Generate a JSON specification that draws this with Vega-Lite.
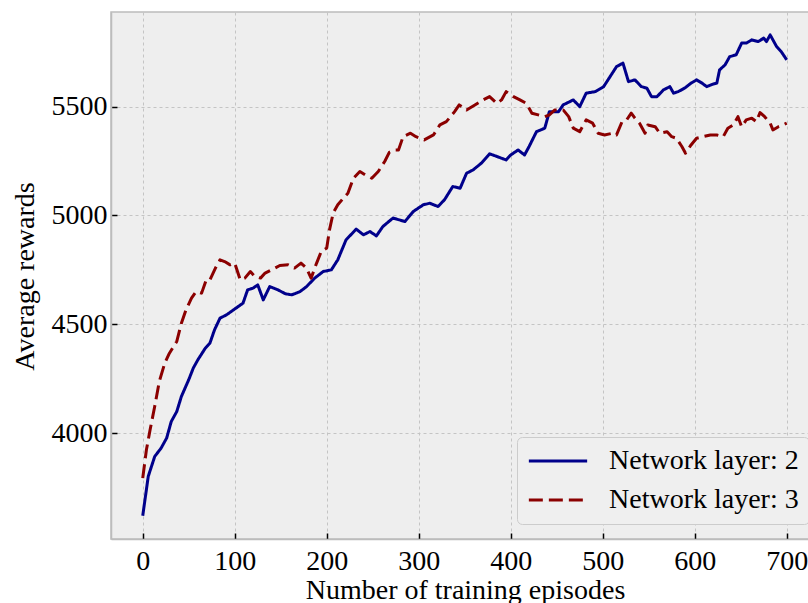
{
  "$schema": "https://vega.github.io/schema/vega-lite/v6.json",
  "width": 699,
  "height": 527,
  "autosize": "none",
  "padding": {"left": 111, "top": 12, "right": 0, "bottom": 64},
  "background": "white",
  "config": {
    "view": {"fill": "#eeeeee", "stroke": "#bcbcbc", "strokeWidth": 1.5},
    "font": "Liberation Serif",
    "axis": {
      "labelFont": "Liberation Serif",
      "labelFontSize": 28,
      "labelColor": "#000000",
      "titleFont": "Liberation Serif",
      "titleFontSize": 28,
      "titleFontWeight": "normal",
      "titleColor": "#000000",
      "domainColor": "#bcbcbc",
      "domainWidth": 1.5,
      "tickColor": "#000000",
      "tickWidth": 1.5,
      "tickSize": -6,
      "gridColor": "#c4c4c4",
      "gridDash": [3, 3],
      "gridWidth": 1
    },
    "legend": {
      "labelFont": "Liberation Serif",
      "labelFontSize": 28,
      "labelColor": "#000000",
      "labelLimit": 400
    }
  },
  "data": {
    "values": [
      {"ep": 0, "v": 3620, "s": "Network layer: 2"},
      {"ep": 6, "v": 3801, "s": "Network layer: 2"},
      {"ep": 13, "v": 3892, "s": "Network layer: 2"},
      {"ep": 20, "v": 3931, "s": "Network layer: 2"},
      {"ep": 26, "v": 3977, "s": "Network layer: 2"},
      {"ep": 31, "v": 4053, "s": "Network layer: 2"},
      {"ep": 37, "v": 4099, "s": "Network layer: 2"},
      {"ep": 42, "v": 4168, "s": "Network layer: 2"},
      {"ep": 50, "v": 4245, "s": "Network layer: 2"},
      {"ep": 55, "v": 4299, "s": "Network layer: 2"},
      {"ep": 60, "v": 4337, "s": "Network layer: 2"},
      {"ep": 68, "v": 4390, "s": "Network layer: 2"},
      {"ep": 73, "v": 4413, "s": "Network layer: 2"},
      {"ep": 78, "v": 4474, "s": "Network layer: 2"},
      {"ep": 84, "v": 4528, "s": "Network layer: 2"},
      {"ep": 91, "v": 4543, "s": "Network layer: 2"},
      {"ep": 100, "v": 4570, "s": "Network layer: 2"},
      {"ep": 109, "v": 4597, "s": "Network layer: 2"},
      {"ep": 114, "v": 4658, "s": "Network layer: 2"},
      {"ep": 120, "v": 4666, "s": "Network layer: 2"},
      {"ep": 125, "v": 4681, "s": "Network layer: 2"},
      {"ep": 131, "v": 4612, "s": "Network layer: 2"},
      {"ep": 138, "v": 4673, "s": "Network layer: 2"},
      {"ep": 147, "v": 4658, "s": "Network layer: 2"},
      {"ep": 155, "v": 4640, "s": "Network layer: 2"},
      {"ep": 162, "v": 4635, "s": "Network layer: 2"},
      {"ep": 171, "v": 4650, "s": "Network layer: 2"},
      {"ep": 178, "v": 4673, "s": "Network layer: 2"},
      {"ep": 187, "v": 4712, "s": "Network layer: 2"},
      {"ep": 196, "v": 4742, "s": "Network layer: 2"},
      {"ep": 205, "v": 4750, "s": "Network layer: 2"},
      {"ep": 212, "v": 4796, "s": "Network layer: 2"},
      {"ep": 221, "v": 4888, "s": "Network layer: 2"},
      {"ep": 232, "v": 4937, "s": "Network layer: 2"},
      {"ep": 240, "v": 4911, "s": "Network layer: 2"},
      {"ep": 247, "v": 4926, "s": "Network layer: 2"},
      {"ep": 254, "v": 4906, "s": "Network layer: 2"},
      {"ep": 261, "v": 4949, "s": "Network layer: 2"},
      {"ep": 272, "v": 4988, "s": "Network layer: 2"},
      {"ep": 285, "v": 4972, "s": "Network layer: 2"},
      {"ep": 294, "v": 5018, "s": "Network layer: 2"},
      {"ep": 305, "v": 5049, "s": "Network layer: 2"},
      {"ep": 312, "v": 5056, "s": "Network layer: 2"},
      {"ep": 321, "v": 5041, "s": "Network layer: 2"},
      {"ep": 328, "v": 5072, "s": "Network layer: 2"},
      {"ep": 337, "v": 5133, "s": "Network layer: 2"},
      {"ep": 345, "v": 5125, "s": "Network layer: 2"},
      {"ep": 352, "v": 5194, "s": "Network layer: 2"},
      {"ep": 359, "v": 5209, "s": "Network layer: 2"},
      {"ep": 368, "v": 5240, "s": "Network layer: 2"},
      {"ep": 377, "v": 5283, "s": "Network layer: 2"},
      {"ep": 385, "v": 5271, "s": "Network layer: 2"},
      {"ep": 395, "v": 5255, "s": "Network layer: 2"},
      {"ep": 400, "v": 5278, "s": "Network layer: 2"},
      {"ep": 408, "v": 5301, "s": "Network layer: 2"},
      {"ep": 415, "v": 5278, "s": "Network layer: 2"},
      {"ep": 420, "v": 5317, "s": "Network layer: 2"},
      {"ep": 428, "v": 5385, "s": "Network layer: 2"},
      {"ep": 437, "v": 5401, "s": "Network layer: 2"},
      {"ep": 442, "v": 5477, "s": "Network layer: 2"},
      {"ep": 452, "v": 5477, "s": "Network layer: 2"},
      {"ep": 457, "v": 5508, "s": "Network layer: 2"},
      {"ep": 468, "v": 5531, "s": "Network layer: 2"},
      {"ep": 475, "v": 5500, "s": "Network layer: 2"},
      {"ep": 482, "v": 5562, "s": "Network layer: 2"},
      {"ep": 492, "v": 5569, "s": "Network layer: 2"},
      {"ep": 501, "v": 5592, "s": "Network layer: 2"},
      {"ep": 508, "v": 5638, "s": "Network layer: 2"},
      {"ep": 515, "v": 5684, "s": "Network layer: 2"},
      {"ep": 522, "v": 5700, "s": "Network layer: 2"},
      {"ep": 528, "v": 5615, "s": "Network layer: 2"},
      {"ep": 535, "v": 5623, "s": "Network layer: 2"},
      {"ep": 542, "v": 5592, "s": "Network layer: 2"},
      {"ep": 548, "v": 5585, "s": "Network layer: 2"},
      {"ep": 553, "v": 5546, "s": "Network layer: 2"},
      {"ep": 559, "v": 5546, "s": "Network layer: 2"},
      {"ep": 566, "v": 5577, "s": "Network layer: 2"},
      {"ep": 573, "v": 5592, "s": "Network layer: 2"},
      {"ep": 577, "v": 5562, "s": "Network layer: 2"},
      {"ep": 582, "v": 5569, "s": "Network layer: 2"},
      {"ep": 589, "v": 5585, "s": "Network layer: 2"},
      {"ep": 596, "v": 5608, "s": "Network layer: 2"},
      {"ep": 602, "v": 5623, "s": "Network layer: 2"},
      {"ep": 608, "v": 5608, "s": "Network layer: 2"},
      {"ep": 613, "v": 5592, "s": "Network layer: 2"},
      {"ep": 620, "v": 5604, "s": "Network layer: 2"},
      {"ep": 624, "v": 5608, "s": "Network layer: 2"},
      {"ep": 627, "v": 5669, "s": "Network layer: 2"},
      {"ep": 633, "v": 5692, "s": "Network layer: 2"},
      {"ep": 638, "v": 5730, "s": "Network layer: 2"},
      {"ep": 645, "v": 5738, "s": "Network layer: 2"},
      {"ep": 651, "v": 5792, "s": "Network layer: 2"},
      {"ep": 656, "v": 5792, "s": "Network layer: 2"},
      {"ep": 662, "v": 5807, "s": "Network layer: 2"},
      {"ep": 669, "v": 5799, "s": "Network layer: 2"},
      {"ep": 675, "v": 5815, "s": "Network layer: 2"},
      {"ep": 678, "v": 5799, "s": "Network layer: 2"},
      {"ep": 682, "v": 5830, "s": "Network layer: 2"},
      {"ep": 689, "v": 5776, "s": "Network layer: 2"},
      {"ep": 694, "v": 5753, "s": "Network layer: 2"},
      {"ep": 700, "v": 5715, "s": "Network layer: 2"},
      {"ep": 0, "v": 3793, "s": "Network layer: 3"},
      {"ep": 4, "v": 3923, "s": "Network layer: 3"},
      {"ep": 8, "v": 4015, "s": "Network layer: 3"},
      {"ep": 13, "v": 4122, "s": "Network layer: 3"},
      {"ep": 18, "v": 4237, "s": "Network layer: 3"},
      {"ep": 24, "v": 4322, "s": "Network layer: 3"},
      {"ep": 29, "v": 4367, "s": "Network layer: 3"},
      {"ep": 37, "v": 4421, "s": "Network layer: 3"},
      {"ep": 42, "v": 4505, "s": "Network layer: 3"},
      {"ep": 47, "v": 4566, "s": "Network layer: 3"},
      {"ep": 53, "v": 4620, "s": "Network layer: 3"},
      {"ep": 58, "v": 4650, "s": "Network layer: 3"},
      {"ep": 64, "v": 4643, "s": "Network layer: 3"},
      {"ep": 69, "v": 4704, "s": "Network layer: 3"},
      {"ep": 73, "v": 4704, "s": "Network layer: 3"},
      {"ep": 79, "v": 4758, "s": "Network layer: 3"},
      {"ep": 84, "v": 4796, "s": "Network layer: 3"},
      {"ep": 89, "v": 4788, "s": "Network layer: 3"},
      {"ep": 95, "v": 4773, "s": "Network layer: 3"},
      {"ep": 100, "v": 4781, "s": "Network layer: 3"},
      {"ep": 106, "v": 4704, "s": "Network layer: 3"},
      {"ep": 111, "v": 4712, "s": "Network layer: 3"},
      {"ep": 117, "v": 4742, "s": "Network layer: 3"},
      {"ep": 122, "v": 4719, "s": "Network layer: 3"},
      {"ep": 128, "v": 4712, "s": "Network layer: 3"},
      {"ep": 133, "v": 4735, "s": "Network layer: 3"},
      {"ep": 140, "v": 4750, "s": "Network layer: 3"},
      {"ep": 149, "v": 4770, "s": "Network layer: 3"},
      {"ep": 158, "v": 4773, "s": "Network layer: 3"},
      {"ep": 165, "v": 4758, "s": "Network layer: 3"},
      {"ep": 172, "v": 4781, "s": "Network layer: 3"},
      {"ep": 178, "v": 4758, "s": "Network layer: 3"},
      {"ep": 183, "v": 4712, "s": "Network layer: 3"},
      {"ep": 189, "v": 4781, "s": "Network layer: 3"},
      {"ep": 194, "v": 4834, "s": "Network layer: 3"},
      {"ep": 200, "v": 4850, "s": "Network layer: 3"},
      {"ep": 203, "v": 4934, "s": "Network layer: 3"},
      {"ep": 207, "v": 5011, "s": "Network layer: 3"},
      {"ep": 212, "v": 5049, "s": "Network layer: 3"},
      {"ep": 218, "v": 5079, "s": "Network layer: 3"},
      {"ep": 223, "v": 5102, "s": "Network layer: 3"},
      {"ep": 229, "v": 5171, "s": "Network layer: 3"},
      {"ep": 236, "v": 5202, "s": "Network layer: 3"},
      {"ep": 242, "v": 5186, "s": "Network layer: 3"},
      {"ep": 249, "v": 5171, "s": "Network layer: 3"},
      {"ep": 256, "v": 5202, "s": "Network layer: 3"},
      {"ep": 263, "v": 5248, "s": "Network layer: 3"},
      {"ep": 268, "v": 5290, "s": "Network layer: 3"},
      {"ep": 274, "v": 5301, "s": "Network layer: 3"},
      {"ep": 278, "v": 5301, "s": "Network layer: 3"},
      {"ep": 283, "v": 5362, "s": "Network layer: 3"},
      {"ep": 291, "v": 5378, "s": "Network layer: 3"},
      {"ep": 297, "v": 5362, "s": "Network layer: 3"},
      {"ep": 306, "v": 5347, "s": "Network layer: 3"},
      {"ep": 316, "v": 5370, "s": "Network layer: 3"},
      {"ep": 323, "v": 5416, "s": "Network layer: 3"},
      {"ep": 330, "v": 5431, "s": "Network layer: 3"},
      {"ep": 339, "v": 5477, "s": "Network layer: 3"},
      {"ep": 344, "v": 5508, "s": "Network layer: 3"},
      {"ep": 352, "v": 5485, "s": "Network layer: 3"},
      {"ep": 361, "v": 5508, "s": "Network layer: 3"},
      {"ep": 370, "v": 5531, "s": "Network layer: 3"},
      {"ep": 377, "v": 5546, "s": "Network layer: 3"},
      {"ep": 385, "v": 5515, "s": "Network layer: 3"},
      {"ep": 390, "v": 5531, "s": "Network layer: 3"},
      {"ep": 395, "v": 5569, "s": "Network layer: 3"},
      {"ep": 403, "v": 5546, "s": "Network layer: 3"},
      {"ep": 410, "v": 5531, "s": "Network layer: 3"},
      {"ep": 417, "v": 5515, "s": "Network layer: 3"},
      {"ep": 423, "v": 5470, "s": "Network layer: 3"},
      {"ep": 430, "v": 5462, "s": "Network layer: 3"},
      {"ep": 437, "v": 5454, "s": "Network layer: 3"},
      {"ep": 442, "v": 5462, "s": "Network layer: 3"},
      {"ep": 448, "v": 5485, "s": "Network layer: 3"},
      {"ep": 457, "v": 5485, "s": "Network layer: 3"},
      {"ep": 463, "v": 5454, "s": "Network layer: 3"},
      {"ep": 468, "v": 5401, "s": "Network layer: 3"},
      {"ep": 475, "v": 5385, "s": "Network layer: 3"},
      {"ep": 482, "v": 5439, "s": "Network layer: 3"},
      {"ep": 489, "v": 5424, "s": "Network layer: 3"},
      {"ep": 495, "v": 5378, "s": "Network layer: 3"},
      {"ep": 502, "v": 5370, "s": "Network layer: 3"},
      {"ep": 511, "v": 5378, "s": "Network layer: 3"},
      {"ep": 515, "v": 5370, "s": "Network layer: 3"},
      {"ep": 521, "v": 5431, "s": "Network layer: 3"},
      {"ep": 526, "v": 5439, "s": "Network layer: 3"},
      {"ep": 531, "v": 5470, "s": "Network layer: 3"},
      {"ep": 535, "v": 5447, "s": "Network layer: 3"},
      {"ep": 540, "v": 5424, "s": "Network layer: 3"},
      {"ep": 546, "v": 5378, "s": "Network layer: 3"},
      {"ep": 549, "v": 5416, "s": "Network layer: 3"},
      {"ep": 557, "v": 5408, "s": "Network layer: 3"},
      {"ep": 562, "v": 5378, "s": "Network layer: 3"},
      {"ep": 570, "v": 5385, "s": "Network layer: 3"},
      {"ep": 575, "v": 5362, "s": "Network layer: 3"},
      {"ep": 580, "v": 5355, "s": "Network layer: 3"},
      {"ep": 586, "v": 5317, "s": "Network layer: 3"},
      {"ep": 590, "v": 5286, "s": "Network layer: 3"},
      {"ep": 596, "v": 5324, "s": "Network layer: 3"},
      {"ep": 602, "v": 5355, "s": "Network layer: 3"},
      {"ep": 609, "v": 5362, "s": "Network layer: 3"},
      {"ep": 617, "v": 5370, "s": "Network layer: 3"},
      {"ep": 624, "v": 5370, "s": "Network layer: 3"},
      {"ep": 631, "v": 5362, "s": "Network layer: 3"},
      {"ep": 636, "v": 5401, "s": "Network layer: 3"},
      {"ep": 642, "v": 5416, "s": "Network layer: 3"},
      {"ep": 647, "v": 5454, "s": "Network layer: 3"},
      {"ep": 651, "v": 5408, "s": "Network layer: 3"},
      {"ep": 656, "v": 5439, "s": "Network layer: 3"},
      {"ep": 662, "v": 5447, "s": "Network layer: 3"},
      {"ep": 667, "v": 5431, "s": "Network layer: 3"},
      {"ep": 671, "v": 5473, "s": "Network layer: 3"},
      {"ep": 676, "v": 5454, "s": "Network layer: 3"},
      {"ep": 682, "v": 5424, "s": "Network layer: 3"},
      {"ep": 685, "v": 5393, "s": "Network layer: 3"},
      {"ep": 691, "v": 5408, "s": "Network layer: 3"},
      {"ep": 696, "v": 5416, "s": "Network layer: 3"},
      {"ep": 700, "v": 5424, "s": "Network layer: 3"}
    ]
  },
  "mark": {"type": "line", "strokeWidth": 3, "strokeCap": "butt", "strokeJoin": "round"},
  "encoding": {
    "x": {
      "field": "ep",
      "type": "quantitative",
      "scale": {"domain": [-34.5, 725.3], "nice": false, "zero": false},
      "axis": {
        "title": "Number of training episodes",
        "values": [0, 100, 200, 300, 400, 500, 600, 700],
        "format": "d",
        "labelPadding": 36,
        "labelBaseline": "alphabetic",
        "titleX": 354,
        "titleY": 59,
        "titleBaseline": "alphabetic",
        "titleAlign": "center"
      }
    },
    "y": {
      "field": "v",
      "type": "quantitative",
      "scale": {"domain": [3513, 5935], "nice": false, "zero": false},
      "axis": {
        "title": "Average rewards",
        "values": [4000, 4500, 5000, 5500],
        "format": "d",
        "labelPadding": 10,
        "titleX": -78,
        "titleY": 264,
        "titleAngle": 270,
        "titleBaseline": "alphabetic",
        "titleAlign": "center"
      }
    },
    "color": {
      "field": "s",
      "type": "nominal",
      "scale": {"domain": ["Network layer: 2", "Network layer: 3"], "range": ["#00008b", "#8b0000"]},
      "legend": {
        "title": null,
        "orient": "none",
        "legendX": 406,
        "legendY": 425,
        "symbolType": "stroke",
        "symbolSize": 3400,
        "symbolStrokeWidth": 3,
        "clipHeight": 28,
        "labelOffset": 20,
        "rowPadding": 11,
        "padding": 10,
        "fillColor": "#efefef",
        "strokeColor": "#cccccc",
        "cornerRadius": 5
      }
    },
    "strokeDash": {
      "field": "s",
      "type": "nominal",
      "scale": {"domain": ["Network layer: 2", "Network layer: 3"], "range": [[1, 0], [14, 6]]},
      "legend": {
        "title": null,
        "orient": "none",
        "legendX": 406,
        "legendY": 425,
        "symbolType": "stroke",
        "symbolSize": 3400,
        "symbolStrokeWidth": 3,
        "clipHeight": 28,
        "labelOffset": 20,
        "rowPadding": 11,
        "padding": 10,
        "fillColor": "#efefef",
        "strokeColor": "#cccccc",
        "cornerRadius": 5
      }
    }
  }
}
